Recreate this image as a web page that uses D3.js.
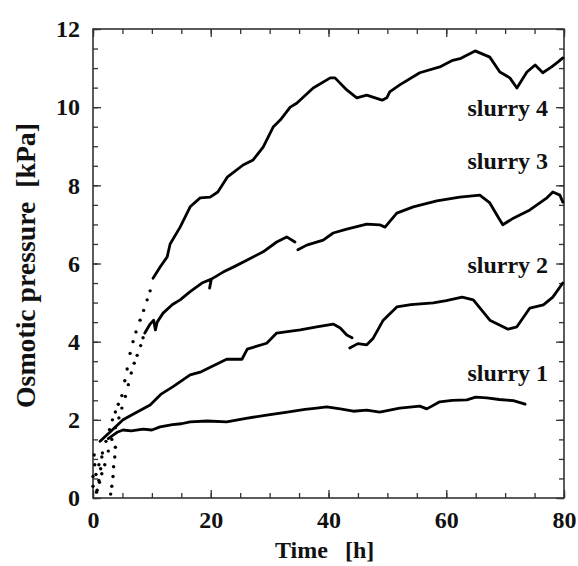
<!DOCTYPE html>
<html>
<head>
<meta charset="utf-8">
<script src="https://cdn.jsdelivr.net/npm/d3@7"></script>
<style>
  html, body { margin: 0; padding: 0; background: #fff; }
  svg text { font-family: "Liberation Serif", "Times New Roman", serif; font-weight: bold; fill: #111; }
</style>
</head>
<body>
<div id="chart"></div>
<script>
// ---- data: [time h, pressure kPa], null = gap in the record ----
const slurry1Dots = [[3.0, 0.1], [3.2, 0.3], [3.4, 0.55], [3.5, 0.8], [3.7, 1.05], [3.8, 1.3]];
const slurry1 = [[2.6, 1.52], [4.2, 1.69], [5.1, 1.74], [6.5, 1.72], [8.5, 1.76], [10, 1.74], [11.4, 1.82],
  [13.5, 1.88], [15, 1.9], [16.5, 1.95], [19.4, 1.97], [22.7, 1.95], [26, 2.04], [29.5, 2.12], [33, 2.2],
  [36, 2.27], [38, 2.3], [39.7, 2.33], [42, 2.28], [44.2, 2.22], [46.5, 2.25], [48.7, 2.2], [52.1, 2.3],
  [55.5, 2.35], [56.7, 2.28], [58.9, 2.46], [61, 2.5], [63.5, 2.51], [65, 2.58], [66.9, 2.56], [69, 2.52],
  [71.4, 2.49], [73.4, 2.4]];

const slurry2Dots = [[0, 0.55], [0.3, 0.85], [0.7, 0.2], [1.0, 0.45], [1.3, 0.75], [1.5, 1.05], [0.2, 1.1]];
const slurry2 = [[1.2, 1.45], [2.9, 1.69], [5.1, 2.0], [7.5, 2.2], [9.7, 2.38], [11.5, 2.65], [13.6, 2.85],
  [16.5, 3.15], [18.2, 3.22], [20, 3.35], [22.7, 3.55], [25.3, 3.55], [26.2, 3.81], [29.5, 3.96],
  [31.2, 4.22], [35.2, 4.3], [38, 4.38], [40.8, 4.45], [42, 4.35], [43.1, 4.17], [44, 4.1], null,
  [43.6, 3.84], [45, 3.95], [46.5, 3.92], [47.6, 4.09], [49.3, 4.55], [51.6, 4.89], [54, 4.95],
  [57.8, 4.99], [60, 5.05], [62.7, 5.14], [64.6, 5.07], [67.4, 4.55], [70.5, 4.32], [72, 4.38],
  [74.2, 4.86], [76.5, 4.94], [78.1, 5.14], [79.8, 5.5]];

const slurry3Dots = [[0.6, 0.15], [1.1, 0.4], [1.5, 0.62], [2.0, 0.85], [2.6, 1.2], [3.2, 1.5], [3.8, 1.8],
  [4.4, 2.05], [4.9, 2.3], [5.5, 2.6], [6.0, 2.9], [6.5, 3.2], [7.0, 3.45], [7.5, 3.65], [8.1, 3.9], [8.5, 4.1]];
const slurry3 = [[8.8, 4.22], [9.7, 4.45], [10.3, 4.55], [10.6, 4.3], [10.9, 4.5], [11.9, 4.73], [13.5, 4.95],
  [14.8, 5.07], [16.5, 5.28], [18.5, 5.5], [20.1, 5.6], [22.1, 5.78], [24, 5.92], [26.2, 6.09],
  [28.9, 6.3], [31.2, 6.55], [32.9, 6.68], [34.3, 6.55], null, [20.1, 5.6], [19.8, 5.37], null,
  [34.8, 6.35], [36.3, 6.47], [39.1, 6.6], [40.8, 6.78], [43.1, 6.88], [46.5, 7.01], [48.7, 6.99],
  [49.6, 6.93], [51.6, 7.29], [54.4, 7.45], [58.4, 7.6], [62.3, 7.7], [65.7, 7.75], [67.4, 7.55],
  [68.8, 7.19], [69.6, 6.99], [71.4, 7.16], [74.2, 7.37], [77.1, 7.68], [78.1, 7.83], [79.3, 7.75],
  [79.8, 7.57]];

const slurry4Dots = [[0, 0.3], [0.5, 0.6], [1.0, 0.85], [1.6, 1.15], [2.2, 1.45], [2.8, 1.75], [3.3, 2.0],
  [3.8, 2.2], [4.3, 2.4], [4.9, 2.62], [5.4, 3.0], [5.8, 3.3], [6.3, 3.7], [6.8, 4.0], [7.3, 4.25],
  [8.0, 4.55], [8.6, 4.8], [9.2, 5.07], [9.7, 5.3]];
const slurry4 = [[10.2, 5.62], [11.4, 5.91], [12.6, 6.17], [13.1, 6.5], [14.8, 6.93], [16.5, 7.45],
  [18.2, 7.68], [19.9, 7.7], [21.2, 7.83], [22.8, 8.21], [25.5, 8.52], [27.2, 8.65], [28.9, 8.98],
  [30.6, 9.49], [31.8, 9.67], [33.5, 10.0], [34.6, 10.1], [37.4, 10.49], [40.3, 10.75], [41.1, 10.75],
  [43.1, 10.44], [44.8, 10.24], [46.5, 10.31], [49.1, 10.18], [49.9, 10.24], [50.4, 10.39], [52.1, 10.57],
  [55.5, 10.88], [58.9, 11.03], [61.1, 11.2], [62.5, 11.25], [64.9, 11.44], [67.4, 11.28], [69.1, 10.9],
  [70.8, 10.75], [72, 10.49], [73.7, 10.9], [75.1, 11.08], [76.4, 10.88], [77.9, 11.03], [79, 11.16],
  [79.8, 11.26]];

const labelNames = ["slurry 1", "slurry 2", "slurry 3", "slurry 4"];
const labelAt = [[77.3, 2.99], [77.3, 5.76], [77.3, 8.42], [77.3, 9.77]];

const xMajor = [0, 20, 40, 60, 80];
const yMajor = [0, 2, 4, 6, 8, 10, 12];

// ---- layout ----
const W = 578, H = 566;
const mLeft = 93, mRight = 564, mTop = 29, mBottom = 498;

const svg = d3.select('#chart').append('svg').attr('width', W).attr('height', H);

const x = d3.scaleLinear().domain([0, 80]).range([mLeft, mRight]);
const y = d3.scaleLinear().domain([0, 12]).range([mBottom, mTop]);

const frameColor = '#333';

// minor ticks (every 5 h, every 0.5 kPa), all pointing inward
const xMinor = d3.range(0, 81, 5);
const yMinor = d3.range(0, 12.01, 0.5);

function styleAxis(g) {
  g.select('.domain').remove();
  g.selectAll('line').attr('stroke', frameColor).attr('stroke-width', 1.3);
  g.selectAll('text').attr('font-size', 24).attr('fill', '#111');
}

svg.append('g').attr('transform', `translate(0,${mBottom})`)
  .call(d3.axisBottom(x).tickValues(xMinor).tickSize(-5).tickFormat('')).call(styleAxis);
svg.append('g').attr('transform', `translate(0,${mBottom})`)
  .call(d3.axisBottom(x).tickValues(xMajor).tickSize(-8).tickPadding(13).tickFormat(d3.format('d'))).call(styleAxis);
svg.append('g').attr('transform', `translate(0,${mTop})`)
  .call(d3.axisTop(x).tickValues(xMinor).tickSize(-5).tickFormat('')).call(styleAxis);
svg.append('g').attr('transform', `translate(0,${mTop})`)
  .call(d3.axisTop(x).tickValues(xMajor).tickSize(-8).tickFormat('')).call(styleAxis);

svg.append('g').attr('transform', `translate(${mLeft},0)`)
  .call(d3.axisLeft(y).tickValues(yMinor).tickSize(-5).tickFormat('')).call(styleAxis);
svg.append('g').attr('transform', `translate(${mLeft},0)`)
  .call(d3.axisLeft(y).tickValues(yMajor).tickSize(-8).tickPadding(13).tickFormat(d3.format('d'))).call(styleAxis);
svg.append('g').attr('transform', `translate(${mRight},0)`)
  .call(d3.axisRight(y).tickValues(yMinor).tickSize(-5).tickFormat('')).call(styleAxis);
svg.append('g').attr('transform', `translate(${mRight},0)`)
  .call(d3.axisRight(y).tickValues(yMajor).tickSize(-8).tickFormat('')).call(styleAxis);

// frame
svg.append('rect')
  .attr('x', mLeft).attr('y', mTop)
  .attr('width', mRight - mLeft).attr('height', mBottom - mTop)
  .attr('fill', 'none').attr('stroke', frameColor).attr('stroke-width', 1.6);

// curves
const line = d3.line()
  .defined(d => d !== null)
  .x(d => x(d[0])).y(d => y(d[1]));

const plot = svg.append('g');
[slurry1, slurry2, slurry3, slurry4].forEach(s => {
  plot.append('path').datum(s)
    .attr('d', line)
    .attr('fill', 'none').attr('stroke', '#000')
    .attr('stroke-width', 2.8).attr('stroke-linejoin', 'round').attr('stroke-linecap', 'round');
});

// sparse early readings appear as dots
[slurry1Dots, slurry2Dots, slurry3Dots, slurry4Dots].forEach(s => {
  plot.selectAll(null).data(s).join('circle')
    .attr('cx', d => x(d[0])).attr('cy', d => y(d[1]))
    .attr('r', 1.7).attr('fill', '#000');
});

// series labels
svg.selectAll('.slabel').data(labelNames).join('text')
  .attr('class', 'slabel')
  .attr('x', (d, i) => x(labelAt[i][0])).attr('y', (d, i) => y(labelAt[i][1]))
  .attr('text-anchor', 'end').attr('font-size', 24)
  .text(d => d);

// axis titles
svg.append('text')
  .attr('x', 275).attr('y', 558)
  .attr('font-size', 24)
  .text('Time');
svg.append('text')
  .attr('x', 345).attr('y', 558)
  .attr('font-size', 24)
  .text('[h]');

svg.append('text')
  .attr('transform', `translate(35,${(123 + 408) / 2}) rotate(-90)`)
  .attr('text-anchor', 'middle').attr('font-size', 27)
  .attr('textLength', 285).attr('lengthAdjust', 'spacingAndGlyphs')
  .style('white-space', 'pre')
  .text('Osmotic pressure  [kPa]');
</script>
</body>
</html>
